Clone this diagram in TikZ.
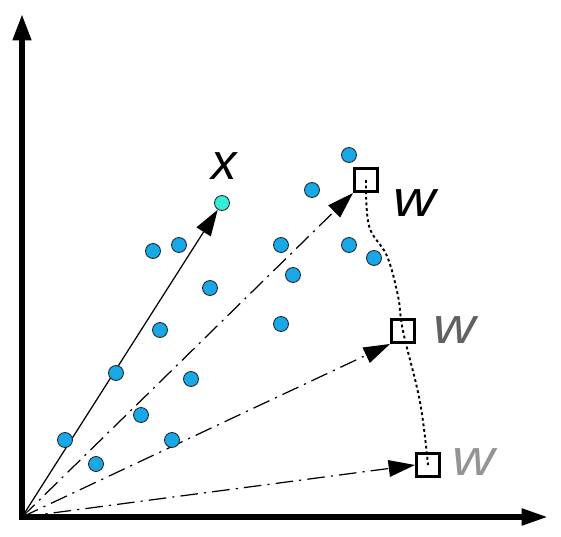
\documentclass[tikz,border=0pt]{standalone}
\usepackage{fontspec}
\setmainfont{Liberation Sans}
\usepackage{xcolor}
\usepackage{tikz}
\usetikzlibrary{arrows.meta, backgrounds}
\definecolor{dotblue}{RGB}{22,168,232}
\definecolor{dotcyan}{RGB}{50,240,215}

\begin{document}
\begin{tikzpicture}[x=0.02cm, y=-0.02cm,
  pt/.style={circle, draw=black!85, line width=0.5pt, fill=dotblue,
    minimum size=8.5pt, inner sep=0pt},
  wbox/.style={draw, line width=1.8pt, minimum size=13pt, inner sep=0pt},
  lbl/.style={font=\fontsize{29}{32}\selectfont\itshape, inner sep=0pt},
  tip/.style={-{Triangle[length=15pt,width=9.5pt]}},
  dashdot/.style={tip, line width=0.7pt,
    dash pattern=on 10pt off 3.5pt on 1.2pt off 3.5pt}
]
  \useasboundingbox (0,0) rectangle (561,537);
  % axes
  \coordinate (o) at (22,517);
  \coordinate (ytip) at (22,14);
  \coordinate (xtip) at (548,517);
  \draw[line width=3.2pt, {Triangle[length=15pt,width=10pt]}-{Triangle[length=15pt,width=9pt]}]
    (ytip) -- (o) -- (xtip);

  % data points
  \node[pt] (d1)  at (349,155) {};
  \node[pt] (d2)  at (312,190) {};
  \node[pt] (d3)  at (153,251) {};
  \node[pt] (d4)  at (179,245) {};
  \node[pt] (d5)  at (281,245) {};
  \node[pt] (d6)  at (349,245) {};
  \node[pt] (d7)  at (374,258) {};
  \node[pt] (d8)  at (293,275) {};
  \node[pt] (d9)  at (210,288) {};
  \node[pt] (d10) at (160,330) {};
  \node[pt] (d11) at (281,324) {};
  \node[pt] (d12) at (116,373) {};
  \node[pt] (d13) at (191,379) {};
  \node[pt] (d14) at (141,415) {};
  \node[pt] (d15) at (65,440) {};
  \node[pt] (d16) at (172,440) {};
  \node[pt] (d17) at (96,464) {};
  \node[pt, fill=dotcyan] (xpt) at (222,203) {};
  \node[lbl] (xlbl) at (224,166) {x};

  % weight vectors
  \node[wbox] (w1) at (366,180) {};
  \node[wbox] (w2) at (403,331) {};
  \node[wbox] (w3) at (428,465) {};
  \node[lbl, xscale=1.15] (w1lbl) at (415,203) {w};
  \node[lbl, xscale=1.15, text=black!62] (w2lbl) at (455,330) {w};
  \node[lbl, xscale=1.15, text=black!42] (w3lbl) at (474,462) {w};

  % path of w
  \draw[line width=1.1pt, dash pattern=on 1.6pt off 1.6pt]
    plot[smooth, tension=0.6] coordinates {(w1.center) (369,226) (387,256)
      (398,296) (w2.center) (420,402) (w3.center)};

  \begin{scope}[on background layer]
    \draw[tip, line width=0.7pt] (o) -- (xpt);
    \draw[dashdot] (o) -- (w1.south west);
    \draw[dashdot] (o) -- (w2.south west);
    \draw[dashdot] (o) -- (w3.west);
  \end{scope}
\end{tikzpicture}
\end{document}
